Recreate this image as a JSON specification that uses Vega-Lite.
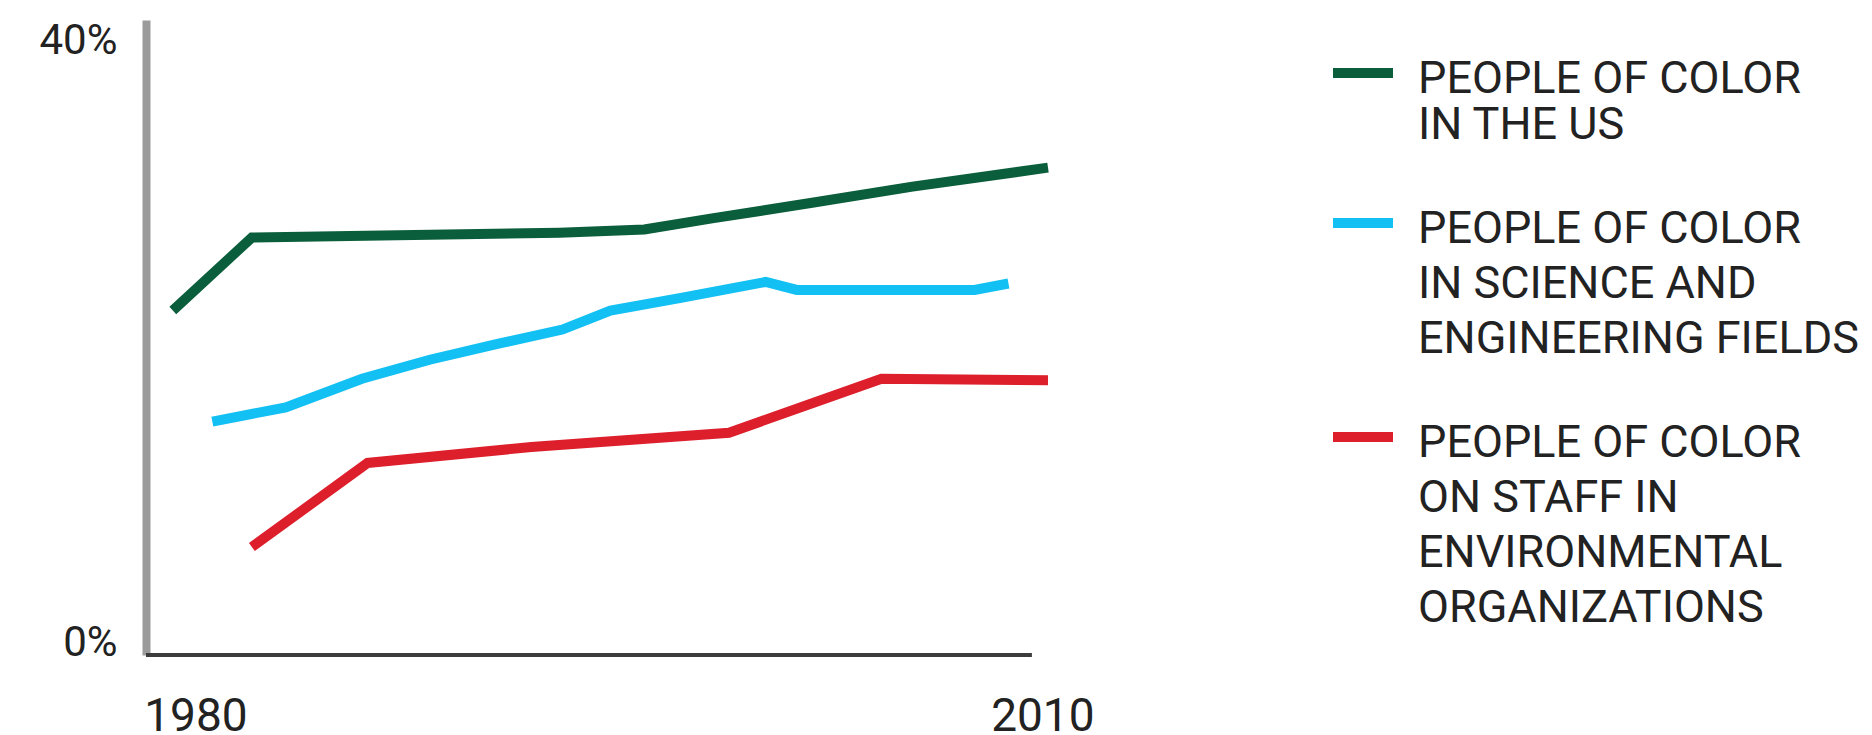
{
  "$schema": "https://vega.github.io/schema/vega-lite/v6.json",
  "width": 926,
  "height": 635,
  "autosize": {"type": "none"},
  "padding": {"left": 146, "top": 20, "right": 800, "bottom": 80},
  "background": "white",
  "config": {
    "view": {"stroke": null},
    "font": "Roboto"
  },
  "data": {
    "values": [
      {"series": "PEOPLE OF COLOR|IN THE US", "year": 1979.2, "pct": 21.7},
      {"series": "PEOPLE OF COLOR|IN THE US", "year": 1982.0, "pct": 26.3},
      {"series": "PEOPLE OF COLOR|IN THE US", "year": 1992.9, "pct": 26.6},
      {"series": "PEOPLE OF COLOR|IN THE US", "year": 1995.9, "pct": 26.8},
      {"series": "PEOPLE OF COLOR|IN THE US", "year": 1998.3, "pct": 27.5},
      {"series": "PEOPLE OF COLOR|IN THE US", "year": 2001.9, "pct": 28.5},
      {"series": "PEOPLE OF COLOR|IN THE US", "year": 2005.4, "pct": 29.5},
      {"series": "PEOPLE OF COLOR|IN THE US", "year": 2010.2, "pct": 30.7},

      {"series": "PEOPLE OF COLOR|IN SCIENCE AND|ENGINEERING FIELDS", "year": 1980.6, "pct": 14.7},
      {"series": "PEOPLE OF COLOR|IN SCIENCE AND|ENGINEERING FIELDS", "year": 1983.2, "pct": 15.6},
      {"series": "PEOPLE OF COLOR|IN SCIENCE AND|ENGINEERING FIELDS", "year": 1985.9, "pct": 17.4},
      {"series": "PEOPLE OF COLOR|IN SCIENCE AND|ENGINEERING FIELDS", "year": 1988.3, "pct": 18.6},
      {"series": "PEOPLE OF COLOR|IN SCIENCE AND|ENGINEERING FIELDS", "year": 1990.7, "pct": 19.6},
      {"series": "PEOPLE OF COLOR|IN SCIENCE AND|ENGINEERING FIELDS", "year": 1993.0, "pct": 20.5},
      {"series": "PEOPLE OF COLOR|IN SCIENCE AND|ENGINEERING FIELDS", "year": 1994.7, "pct": 21.7},
      {"series": "PEOPLE OF COLOR|IN SCIENCE AND|ENGINEERING FIELDS", "year": 1997.2, "pct": 22.5},
      {"series": "PEOPLE OF COLOR|IN SCIENCE AND|ENGINEERING FIELDS", "year": 2000.2, "pct": 23.5},
      {"series": "PEOPLE OF COLOR|IN SCIENCE AND|ENGINEERING FIELDS", "year": 2001.3, "pct": 23.0},
      {"series": "PEOPLE OF COLOR|IN SCIENCE AND|ENGINEERING FIELDS", "year": 2007.6, "pct": 23.0},
      {"series": "PEOPLE OF COLOR|IN SCIENCE AND|ENGINEERING FIELDS", "year": 2008.8, "pct": 23.4},

      {"series": "PEOPLE OF COLOR|ON STAFF IN|ENVIRONMENTAL|ORGANIZATIONS", "year": 1982.0, "pct": 6.8},
      {"series": "PEOPLE OF COLOR|ON STAFF IN|ENVIRONMENTAL|ORGANIZATIONS", "year": 1986.1, "pct": 12.1},
      {"series": "PEOPLE OF COLOR|ON STAFF IN|ENVIRONMENTAL|ORGANIZATIONS", "year": 1991.9, "pct": 13.1},
      {"series": "PEOPLE OF COLOR|ON STAFF IN|ENVIRONMENTAL|ORGANIZATIONS", "year": 1998.9, "pct": 14.0},
      {"series": "PEOPLE OF COLOR|ON STAFF IN|ENVIRONMENTAL|ORGANIZATIONS", "year": 2004.3, "pct": 17.4},
      {"series": "PEOPLE OF COLOR|ON STAFF IN|ENVIRONMENTAL|ORGANIZATIONS", "year": 2010.2, "pct": 17.3}
    ]
  },
  "layer": [
    {
      "mark": {"type": "rule", "color": "#3c3c3c", "strokeWidth": 4},
      "encoding": {
        "x": {"datum": 1978.25, "type": "quantitative"},
        "x2": {"datum": 2009.6},
        "y": {"datum": 0, "type": "quantitative"}
      }
    },
    {
      "mark": {"type": "line", "strokeWidth": 10, "strokeCap": "butt", "strokeJoin": "miter", "clip": false},
      "encoding": {
        "x": {
          "field": "year",
          "type": "quantitative",
          "scale": {"domain": [1978.25, 2011.05], "nice": false, "zero": false},
          "axis": {
            "title": null,
            "domain": false,
            "ticks": false,
            "tickSize": 0,
            "grid": false,
            "values": [1980, 2010],
            "format": "d",
            "labelFlush": false,
            "labelFont": "Roboto",
            "labelFontSize": 46,
            "labelColor": "#222222",
            "labelBaseline": "top",
            "labelPadding": 39
          }
        },
        "y": {
          "field": "pct",
          "type": "quantitative",
          "scale": {"domain": [0, 40], "nice": false},
          "axis": {
            "title": null,
            "domain": true,
            "domainColor": "#9b9b9b",
            "domainWidth": 8,
            "domainCap": "butt",
            "ticks": false,
            "tickSize": 0,
            "grid": false,
            "values": [0, 40],
            "labelExpr": "datum.value + '%'",
            "labelFlush": false,
            "labelFont": "Roboto",
            "labelFontSize": 42,
            "labelColor": "#222222",
            "labelPadding": 29,
            "labelBaseline": {"condition": {"test": "datum.value === 0", "value": "alphabetic"}, "value": "top"}
          }
        },
        "color": {
          "field": "series",
          "type": "nominal",
          "scale": {
            "domain": [
              "PEOPLE OF COLOR|IN THE US",
              "PEOPLE OF COLOR|IN SCIENCE AND|ENGINEERING FIELDS",
              "PEOPLE OF COLOR|ON STAFF IN|ENVIRONMENTAL|ORGANIZATIONS"
            ],
            "range": ["#0b5e3b", "#12c0f3", "#dd1f2c"]
          },
          "legend": {
            "title": null,
            "orient": "none",
            "legendX": 1182,
            "legendY": 1.5,
            "padding": 0,
            "direction": "vertical",
            "symbolType": "M-1,0.55H1",
            "symbolSize": 3600,
            "symbolStrokeWidth": 10,
            "labelFont": "Roboto",
            "labelFontSize": 45,
            "labelColor": "#222222",
            "labelBaseline": "top",
            "labelOffset": 20,
            "labelLimit": 0,
            "rowPadding": 24,
            "labelExpr": "split(datum.label, '|')",
            "encode": {
              "labels": {"update": {"lineHeight": {"signal": "datum.index === 0 ? 46 : 55"}}}
            }
          }
        }
      }
    }
  ]
}
